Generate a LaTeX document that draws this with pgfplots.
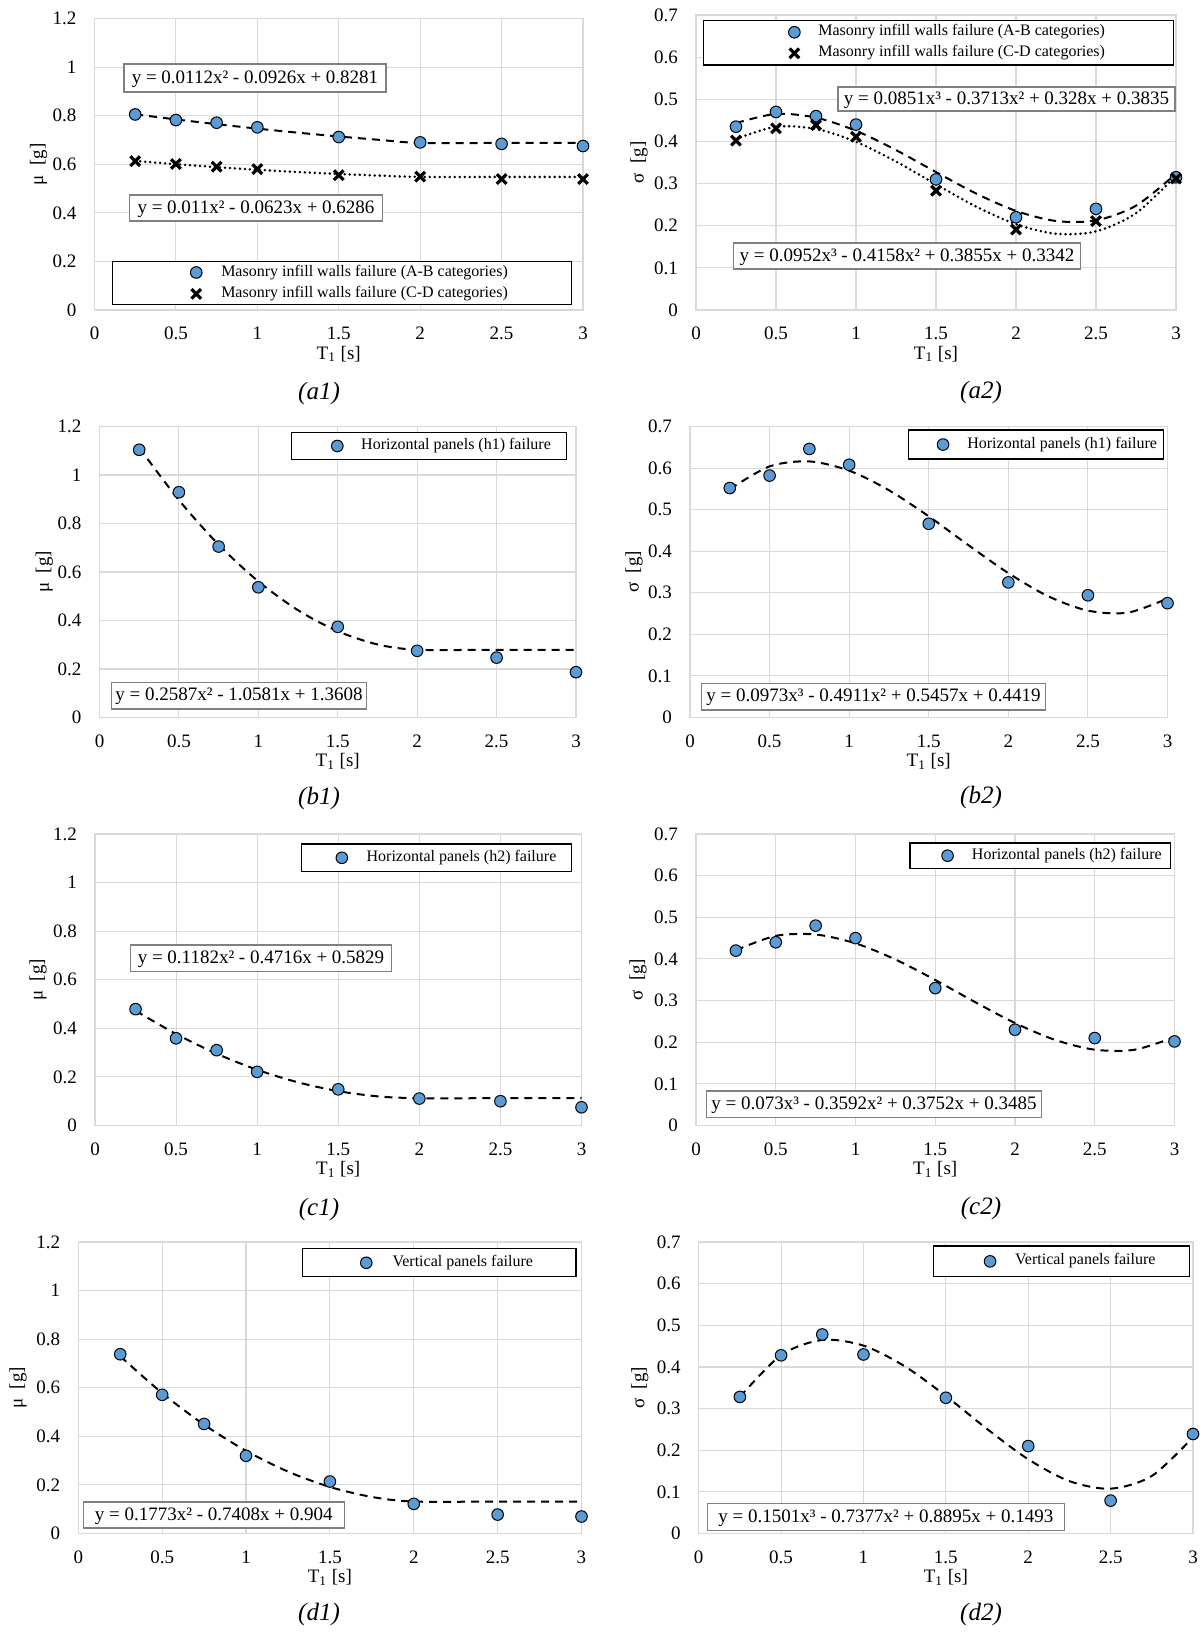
\documentclass[border=0pt]{standalone}
\usepackage{fontspec}
\setmainfont{Liberation Serif}
\usepackage{pgfplots}
\pgfplotsset{compat=1.18}
\definecolor{gridc}{RGB}{217,217,217}
\definecolor{mblue}{RGB}{91,155,213}
\definecolor{eqgray}{RGB}{128,128,128}
\newcommand\ticksize{\fontsize{9.5}{11.4}\selectfont}
\newcommand\legsize{\fontsize{8}{9.6}\selectfont}
\newcommand\eqsize{\fontsize{9.5}{11.4}\selectfont}
\newcommand\capsize{\fontsize{12.5}{15}\selectfont}
\pgfplotsset{
  panel/.style={
    scale only axis, anchor=south west, xmin=0, xmax=3, xtick={0,0.5,1,1.5,2,2.5,3},
    grid=major, major grid style={draw=gridc, line width=0.55pt},
    axis line style={draw=gridc, line width=0.55pt},
    major tick length=0pt,
    tick label style={font=\ticksize},
    /pgf/number format/assume math mode=true,
    yticklabel style={xshift=-5.5pt},
    xticklabel style={yshift=-5pt},
    xlabel={T\textsubscript{1} [s]},
    xlabel style={at={(axis description cs:0.5,0)}, anchor=center, yshift=-22pt, font=\ticksize},
    ylabel style={anchor=center, font=\ticksize},
    clip=false,
    legend cell align=left,
    legend style={draw=black, line width=0.65pt, fill=white, inner xsep=0pt, column sep=0pt,
      font=\legsize, anchor=north west,
      nodes={inner xsep=0pt, inner ysep=0pt, text height=5.6pt, text depth=2pt}},
  },
  mu/.style={ymin=0, ymax=1.2, ytick={0,0.2,0.4,0.6,0.8,1,1.2}, ylabel={μ\ \ [g]}},
  sig/.style={ymin=0, ymax=0.7, ytick={0,0.1,0.2,0.3,0.4,0.5,0.6,0.7}, ylabel={σ\ \ [g]}},
  circ/.style={only marks, mark=*, mark size=2.9pt, mark options={fill=mblue, draw=black, line width=0.5pt, solid}},
  crs/.style={only marks, mark=x, mark size=3.4pt, mark options={draw=black, line width=1.6pt, solid}},
  legimg/.style 2 args={legend image code/.code={\path[draw=none,fill=none] (0pt,0pt) -- (#1,0pt); \draw[##1] plot coordinates {(#2,0pt)};}},
  dashtr/.style={black, line width=1pt, dash pattern=on 4pt off 3pt, smooth, forget plot, no marks},
  dottr/.style={black, line width=1.4pt, dash pattern=on 0pt off 2.5pt, line cap=round, smooth, forget plot, no marks},
}
\tikzset{
  eqbox/.style={draw=eqgray, line width=0.6pt, fill=white, inner xsep=1pt, inner ysep=0pt,
    font=\eqsize, text height=6.8pt, text depth=1.6pt, align=center},
  capnode/.style={font=\capsize\itshape},
}
\begin{document}
\begin{tikzpicture}
\useasboundingbox (0,0) rectangle (601.5pt,-816pt);
% ---------------- a1
\begin{axis}[panel, mu, at={(47.25pt,-155pt)}, width=244.25pt, height=145.75pt,
  ylabel style={at={(axis description cs:-0.1146,0.5)}},
  legend style={at={(0.035,0.168)}, inner ysep=1.6pt, row sep=3.1pt}]
\addplot[circ, legimg={54.5pt}{42pt}] coordinates {(0.25,0.805)(0.5,0.782)(0.75,0.771)(1,0.752)(1.5,0.712)(2,0.690)(2.5,0.684)(3,0.675)};
\addlegendentry{\makebox[175pt][l]{Masonry infill walls failure (A-B categories)}}
\addplot[crs, legimg={54.5pt}{42pt}] coordinates {(0.25,0.613)(0.5,0.601)(0.75,0.590)(1,0.580)(1.5,0.555)(2,0.549)(2.5,0.539)(3,0.539)};
\addlegendentry{\makebox[175pt][l]{Masonry infill walls failure (C-D categories)}}
\addplot[dashtr] coordinates {(0.25,0.8056)(0.5,0.7846)(0.75,0.7650)(1,0.7467)(1.25,0.7299)(1.5,0.7144)(1.75,0.7004)(2,0.6877)(2.5,0.6877)(3,0.6877)};
\addplot[dottr] coordinates {(0.25,0.6137)(0.5,0.6002)(0.75,0.5881)(1,0.5773)(1.25,0.5679)(1.5,0.5599)(1.75,0.5533)(2,0.5480)(2.5,0.5480)(3,0.5480)};
\end{axis}
% ---------------- a2
\begin{axis}[panel, sig, at={(348pt,-155pt)}, width=240pt, height=147.5pt,
  ylabel style={at={(axis description cs:-0.1188,0.5)}},
  legend style={at={(0.014,0.983)}, inner ysep=2.0pt, row sep=2.9pt}]
\addplot[circ, legimg={57.5pt}{45.5pt}] coordinates {(0.25,0.435)(0.5,0.470)(0.75,0.460)(1,0.440)(1.5,0.310)(2,0.220)(2.5,0.240)(3,0.315)};
\addlegendentry{\makebox[177.5pt][l]{Masonry infill walls failure (A-B categories)}}
\addplot[crs, legimg={57.5pt}{45.5pt}] coordinates {(0.25,0.402)(0.5,0.431)(0.75,0.439)(1,0.411)(1.5,0.283)(2,0.191)(2.5,0.211)(3,0.312)};
\addlegendentry{\makebox[177.5pt][l]{Masonry infill walls failure (C-D categories)}}
\addplot[dashtr] coordinates {(0.25,0.4436)(0.5,0.4653)(0.75,0.4565)(1,0.4253)(1.25,0.3795)(1.5,0.3273)(1.75,0.2765)(2,0.2351)(2.25,0.2112)(2.5,0.2126)(2.75,0.2475)(3,0.3235)};
\addplot[dottr] coordinates {(0.25,0.4061)(0.5,0.4349)(0.75,0.4296)(1,0.3991)(1.25,0.3523)(1.5,0.2982)(1.75,0.2456)(2,0.2036)(2.25,0.1810)(2.5,0.1867)(2.75,0.2297)(3,0.3189)};
\end{axis}
% ---------------- b1
\begin{axis}[panel, mu, at={(49.75pt,-358.75pt)}, width=238.25pt, height=145.5pt,
  ylabel style={at={(axis description cs:-0.116,0.5)}},
  legend style={at={(0.402,0.982)}, inner ysep=3.0pt}]
\addplot[circ, legimg={34.75pt}{22.8pt}] coordinates {(0.25,1.104)(0.5,0.929)(0.75,0.705)(1,0.537)(1.5,0.374)(2,0.275)(2.5,0.247)(3,0.187)};
\addlegendentry{\makebox[102.55pt][l]{Horizontal panels (h1) failure}}
\addplot[dashtr] coordinates {(0.25,1.1125)(0.5,0.8965)(0.75,0.7127)(1,0.5614)(1.25,0.4424)(1.5,0.3557)(1.75,0.3014)(2,0.2794)(2.5,0.2794)(3,0.2794)};
\end{axis}
% ---------------- b2
\begin{axis}[panel, sig, at={(345pt,-358.75pt)}, width=238.75pt, height=145.5pt,
  ylabel style={at={(axis description cs:-0.1173,0.5)}},
  legend style={at={(0.4555,0.990)}, inner ysep=3.45pt}]
\addplot[circ, legimg={29.6pt}{17.45pt}] coordinates {(0.25,0.552)(0.5,0.582)(0.75,0.646)(1,0.608)(1.5,0.466)(2,0.325)(2.5,0.294)(3,0.275)};
\addlegendentry{\makebox[98.1pt][l]{Horizontal panels (h1) failure}}
\addplot[dashtr] coordinates {(0.25,0.5492)(0.5,0.6041)(0.75,0.6160)(1,0.5938)(1.25,0.5467)(1.5,0.4839)(1.75,0.4144)(2,0.3473)(2.25,0.2918)(2.5,0.2571)(2.75,0.2522)(3,0.2862)};
\end{axis}
% ---------------- c1
\begin{axis}[panel, mu, at={(47.5pt,-562.75pt)}, width=243.25pt, height=145.75pt,
  ylabel style={at={(axis description cs:-0.1172,0.5)}},
  legend style={at={(0.4226,0.968)}, inner ysep=3.1pt}]
\addplot[circ, legimg={32.7pt}{20.3pt}] coordinates {(0.25,0.479)(0.5,0.359)(0.75,0.310)(1,0.221)(1.5,0.149)(2,0.111)(2.5,0.100)(3,0.075)};
\addlegendentry{\makebox[102.3pt][l]{Horizontal panels (h2) failure}}
\addplot[dashtr] coordinates {(0.25,0.4724)(0.5,0.3767)(0.75,0.2957)(1,0.2295)(1.25,0.1781)(1.5,0.1415)(1.75,0.1196)(2,0.1125)(2.5,0.1125)(3,0.1125)};
\end{axis}
% ---------------- c2
\begin{axis}[panel, sig, at={(348pt,-562.75pt)}, width=239.25pt, height=145.75pt,
  ylabel style={at={(axis description cs:-0.1212,0.5)}},
  legend style={at={(0.446,0.9715)}, inner ysep=2.55pt}]
\addplot[circ, legimg={30.95pt}{18.75pt}] coordinates {(0.25,0.420)(0.5,0.440)(0.75,0.480)(1,0.450)(1.5,0.330)(2,0.230)(2.5,0.210)(3,0.202)};
\addlegendentry{\makebox[99.2pt][l]{Horizontal panels (h2) failure}}
\addplot[dashtr] coordinates {(0.25,0.4210)(0.5,0.4554)(0.75,0.4587)(1,0.4375)(1.25,0.3988)(1.5,0.3495)(1.75,0.2963)(2,0.2461)(2.25,0.2058)(2.5,0.1821)(2.75,0.1820)(3,0.2123)};
\end{axis}
% ---------------- d1
\begin{axis}[panel, mu, at={(39.15pt,-766.75pt)}, width=251.6pt, height=145.75pt,
  ylabel style={at={(axis description cs:-0.1198,0.5)}},
  legend style={at={(0.4446,0.979)}, inner ysep=3.2pt}]
\addplot[circ, legimg={44.95pt}{31.8pt}] coordinates {(0.25,0.738)(0.5,0.571)(0.75,0.451)(1,0.320)(1.5,0.214)(2,0.122)(2.5,0.078)(3,0.070)};
\addlegendentry{\makebox[91.65pt][l]{Vertical panels failure}}
\addplot[dashtr] coordinates {(0.25,0.7299)(0.5,0.5779)(0.75,0.4481)(1,0.3405)(1.25,0.2550)(1.5,0.1917)(1.75,0.1506)(2,0.1316)(2.5,0.1316)(3,0.1316)};
\end{axis}
% ---------------- d2
\begin{axis}[panel, sig, at={(349.35pt,-766.75pt)}, width=247.15pt, height=145.75pt,
  ylabel style={at={(axis description cs:-0.119,0.5)}},
  legend style={at={(0.473,0.9887)}, inner ysep=3.9pt}]
\addplot[circ, legimg={41pt}{28.45pt}] coordinates {(0.25,0.328)(0.5,0.428)(0.75,0.478)(1,0.430)(1.5,0.326)(2,0.210)(2.5,0.079)(3,0.239)};
\addlegendentry{\makebox[87.05pt][l]{Vertical panels failure}}
\addplot[dashtr] coordinates {(0.25,0.3279)(0.5,0.4284)(0.75,0.4648)(1,0.4512)(1.25,0.4017)(1.5,0.3303)(1.75,0.2511)(2,0.1783)(2.25,0.1258)(2.5,0.1077)(2.75,0.1382)(3,0.2312)};
\end{axis}
% ---------------- equation boxes
\node[eqbox, minimum width=131pt, minimum height=14pt] at (127.5pt,-39pt) {y = 0.0112x² - 0.0926x + 0.8281};
\node[eqbox, minimum width=126.3pt, minimum height=13pt] at (128pt,-104pt) {y = 0.011x² - 0.0623x + 0.6286};
\node[eqbox, minimum width=168.5pt, minimum height=12pt] at (503.25pt,-49.5pt) {y = 0.0851x³ - 0.3713x² + 0.328x + 0.3835};
\node[eqbox, minimum width=173.5pt, minimum height=13pt] at (453.5pt,-128pt) {y = 0.0952x³ - 0.4158x² + 0.3855x + 0.3342};
\node[eqbox, minimum width=127.5pt, minimum height=13.35pt] at (119.5pt,-347.85pt) {y = 0.2587x² - 1.0581x + 1.3608};
\node[eqbox, minimum width=172pt, minimum height=13.3pt] at (436.75pt,-348.35pt) {y = 0.0973x³ - 0.4911x² + 0.5457x + 0.4419};
\node[eqbox, minimum width=130.5pt, minimum height=13.35pt] at (130.5pt,-479.15pt) {y = 0.1182x² - 0.4716x + 0.5829};
\node[eqbox, minimum width=167.7pt, minimum height=13.35pt] at (437pt,-552.15pt) {y = 0.073x³ - 0.3592x² + 0.3752x + 0.3485};
\node[eqbox, minimum width=130.5pt, minimum height=13pt] at (106.85pt,-757.5pt) {y = 0.1773x² - 0.7408x + 0.904};
\node[eqbox, minimum width=178.4pt, minimum height=13.3pt] at (442.9pt,-758.5pt) {y = 0.1501x³ - 0.7377x² + 0.8895x + 0.1493};
% ---------------- captions
\node[capnode] at (159.5pt,-196.5pt) {(a1)};
\node[capnode] at (490.5pt,-196pt) {(a2)};
\node[capnode] at (159.5pt,-399pt) {(b1)};
\node[capnode] at (490.5pt,-398.5pt) {(b2)};
\node[capnode] at (159.5pt,-604.8pt) {(c1)};
\node[capnode] at (490.5pt,-604.3pt) {(c2)};
\node[capnode] at (159.5pt,-807.3pt) {(d1)};
\node[capnode] at (490.5pt,-807.3pt) {(d2)};
\end{tikzpicture}
\end{document}
